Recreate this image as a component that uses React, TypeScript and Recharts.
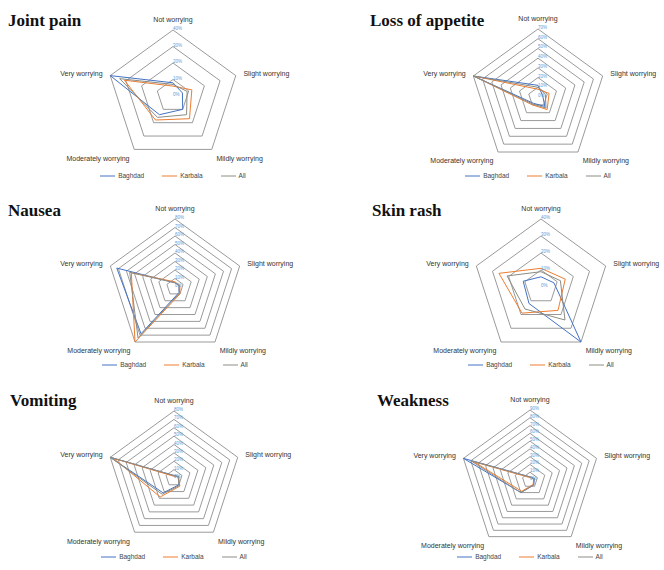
import { RadarChart, Radar, PolarGrid, PolarAngleAxis, PolarRadiusAxis } from "recharts";

const categories = [
  "Not worrying",
  "Slight worrying",
  "Mildly worrying",
  "Moderately worrying",
  "Very worrying",
];

// values in percent, same order as categories
const jointPainBaghdad = [8, 6, 10, 14, 40];
const jointPainKarbala = [6, 12, 17, 18, 31];
const jointPainAll = [7, 9, 14, 16, 34];

const appetiteBaghdad = [12, 5, 12, 8, 70];
const appetiteKarbala = [8, 12, 16, 10, 70];
const appetiteAll = [10, 8, 14, 9, 70];

const nauseaBaghdad = [5, 5, 8, 68, 72];
const nauseaKarbala = [6, 6, 10, 80, 54];
const nauseaAll = [5, 5, 9, 74, 56];

const skinBaghdad = [6, 8, 40, 12, 11];
const skinKarbala = [11, 15, 17, 19, 26];
const skinAll = [9, 12, 24, 16, 21];

const vomitingBaghdad = [3, 6, 10, 22, 80];
const vomitingKarbala = [2, 5, 12, 28, 76];
const vomitingAll = [3, 5, 11, 24, 80];

const weaknessBaghdad = [4, 6, 8, 20, 90];
const weaknessKarbala = [3, 5, 7, 18, 76];
const weaknessAll = [4, 5, 8, 20, 80];

const seriesNames = ["Baghdad", "Karbala", "All"];
const colors = ["#4472c4", "#ed7d31", "#8c8c84"];

function buildRows(b: number[], k: number[], a: number[]) {
  return categories.map((c, i) => ({ cat: c, Baghdad: b[i], Karbala: k[i], All: a[i] }));
}

function SeriesLegend({ x, y }: { x: number; y: number }) {
  return (
    <div
      style={{
        position: "absolute",
        left: x - 90,
        top: y,
        width: 180,
        display: "flex",
        justifyContent: "center",
        gap: 18,
        fontFamily: "Liberation Sans",
        fontSize: 6.5,
        color: "#444",
        lineHeight: "8px",
      }}
    >
      {seriesNames.map((s, i) => (
        <div key={s} style={{ display: "flex", alignItems: "center", gap: 3 }}>
          <svg width={15} height={8}>
            <line x1={0} y1={4} x2={15} y2={4} stroke={colors[i]} strokeWidth={1} />
          </svg>
          <span>{s}</span>
        </div>
      ))}
    </div>
  );
}

interface PanelProps {
  title: string;
  titleX: number;
  left: number;
  top: number;
  rows: any[];
  max: number;
  cx: number;
  cy: number;
  r: number;
  legendY: number;
}

function Panel({ title, titleX, left, top, rows, max, cx, cy, r, legendY }: PanelProps) {
  const rings = max / 10;
  return (
    <div style={{ position: "absolute", left, top, width: 332, height: 190 }}>
      <RadarChart
        width={332}
        height={190}
        data={rows}
        cx={cx}
        cy={cy}
        outerRadius={r}
        margin={{ top: 0, right: 0, bottom: 0, left: 0 }}
      >
        <PolarGrid gridType="polygon" radialLines={false} stroke="#8f8f8f" strokeWidth={0.9} />
        <PolarAngleAxis
          dataKey="cat"
          tick={{ fontSize: 7, fill: "#333", fontFamily: "Liberation Sans" }}
          tickLine={false}
        />
        <PolarRadiusAxis
          angle={90}
          domain={[0, max]}
          tickCount={rings + 1}
          axisLine={false}
          tick={{ fontSize: 4.5, fill: "#5b9bd5", fontFamily: "Liberation Sans" }}
          tickFormatter={(v: number) => `${v}%`}
        />
        {seriesNames.map((s, i) => (
          <Radar
            key={s}
            name={s}
            dataKey={s}
            stroke={colors[i]}
            strokeWidth={1}
            fill="none"
            fillOpacity={0}
            dot={false}
            isAnimationActive={false}
          />
        ))}
      </RadarChart>
      <SeriesLegend x={cx} y={legendY} />
      <div
        style={{
          position: "absolute",
          left: titleX,
          top: 11,
          fontFamily: "Liberation Serif",
          fontWeight: "bold",
          fontSize: 17,
          color: "#111",
          whiteSpace: "nowrap",
          lineHeight: "20px",
        }}
      >
        {title}
      </div>
    </div>
  );
}

export default function App() {
  return (
    <div
      style={{
        position: "absolute",
        left: 0,
        top: 0,
        width: 664,
        height: 570,
        background: "#fff",
        overflow: "hidden",
      }}
    >
      <Panel title="Joint pain" titleX={8} left={0} top={0} rows={buildRows(jointPainBaghdad, jointPainKarbala, jointPainAll)} max={40} cx={173} cy={96} r={66} legendY={172} />
      <Panel title="Loss of appetite" titleX={38} left={332} top={0} rows={buildRows(appetiteBaghdad, appetiteKarbala, appetiteAll)} max={70} cx={206} cy={97} r={68} legendY={172} />
      <Panel title="Nausea" titleX={8} left={0} top={190} rows={buildRows(nauseaBaghdad, nauseaKarbala, nauseaAll)} max={80} cx={175} cy={97} r={68} legendY={171} />
      <Panel title="Skin rash" titleX={40} left={332} top={190} rows={buildRows(skinBaghdad, skinKarbala, skinAll)} max={40} cx={209} cy={97} r={68} legendY={171} />
      <Panel title="Vomiting" titleX={10} left={0} top={380} rows={buildRows(vomitingBaghdad, vomitingKarbala, vomitingAll)} max={80} cx={174} cy={98} r={67} legendY={173} />
      <Panel title="Weakness" titleX={45} left={332} top={380} rows={buildRows(weaknessBaghdad, weaknessKarbala, weaknessAll)} max={90} cx={198} cy={100} r={70} legendY={173} />
    </div>
  );
}
